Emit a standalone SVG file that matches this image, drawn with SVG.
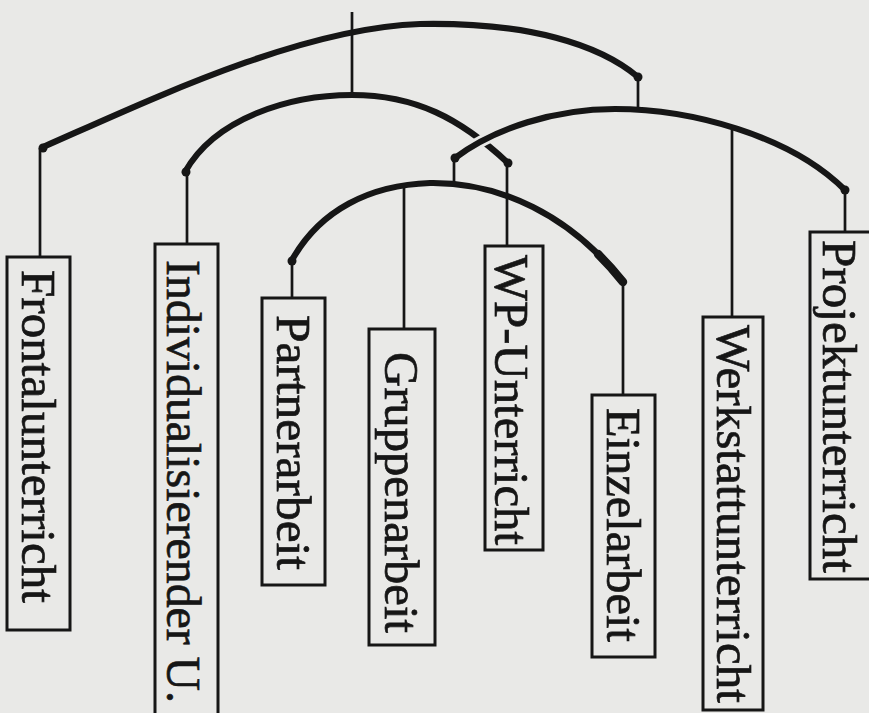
<svg xmlns="http://www.w3.org/2000/svg" width="869" height="713" viewBox="0 0 869 713">
<style>
.arc{fill:none;stroke:#161616;stroke-width:6.2;stroke-linecap:round;stroke-linejoin:round}
.halo{fill:none;stroke:#e9e9e7;stroke-width:12;stroke-linecap:butt}
.str{fill:none;stroke:#161616;stroke-width:2.7}
.box{fill:#e9e9e7;stroke:#161616;stroke-width:3}
.lbl{font-family:"Liberation Serif","Times New Roman",serif;font-size:48px;fill:#161616;stroke:#161616;stroke-width:0.7}
.end{fill:#161616}
</style>
<rect x="0" y="0" width="869" height="713" fill="#e9e9e7"/>
<g id="connectors">
<line class="str" x1="352" y1="12" x2="352" y2="96"/>
<path class="arc" d="M43,147 C150,100 300,28 420,24 C530,22 600,45 638,77"/>
<line class="str" x1="638" y1="77" x2="638" y2="110"/>
<path class="arc" d="M185,172 C215,118 290,95 352,95 C415,95 460,118 508,163"/>
<path class="halo" d="M462,153 C500,127 555,109 615,109"/>
<path class="arc" d="M455,158 C495,128 555,109 615,109 C690,109 790,135 845,190"/>
<line class="str" x1="454" y1="157" x2="454" y2="185"/>
<path class="arc" d="M292,260 C320,210 370,185 430,183 C500,182 570,215 623,282"/>
<path class="arc" style="stroke-width:8.5" d="M598,254 L611.6,268.4 L623,282"/>
<circle class="end" cx="43" cy="148" r="4.5"/>
<circle class="end" cx="186" cy="172" r="4.5"/>
<circle class="end" cx="292" cy="261" r="4.5"/>
<circle class="end" cx="455" cy="158" r="4.5"/>
<circle class="end" cx="508" cy="163" r="4.5"/>
<circle class="end" cx="638" cy="77" r="4.5"/>
<circle class="end" cx="845" cy="190" r="4.5"/>
<line class="str" x1="40" y1="148" x2="40" y2="258"/>
<line class="str" x1="187" y1="172" x2="187" y2="245"/>
<line class="str" x1="292" y1="260" x2="292" y2="299"/>
<line class="str" x1="404" y1="186" x2="404" y2="330"/>
<line class="str" x1="507" y1="163" x2="507" y2="247"/>
<line class="str" x1="623" y1="282" x2="623" y2="396"/>
<line class="str" x1="732" y1="130" x2="732" y2="318"/>
<line class="str" x1="845" y1="190" x2="845" y2="233"/>
</g>
<g id="n-frontal">
<rect class="box" x="7" y="257" width="63" height="373"/>
<text class="lbl" transform="translate(22,270) rotate(90)" textLength="333" lengthAdjust="spacingAndGlyphs">Frontalunterricht</text>
</g>
<g id="n-individual">
<rect class="box" x="155" y="244" width="63" height="480"/>
<text class="lbl" transform="translate(167,260) rotate(90)" textLength="443" lengthAdjust="spacingAndGlyphs">Individualisierender U.</text>
</g>
<g id="n-partner">
<rect class="box" x="262" y="298" width="63" height="287"/>
<text class="lbl" transform="translate(277,315) rotate(90)" textLength="255" lengthAdjust="spacingAndGlyphs">Partnerarbeit</text>
</g>
<g id="n-gruppen">
<rect class="box" x="369" y="329" width="66" height="316"/>
<text class="lbl" transform="translate(385,352) rotate(90)" textLength="281" lengthAdjust="spacingAndGlyphs">Gruppenarbeit</text>
</g>
<g id="n-wp">
<rect class="box" x="485" y="246" width="58" height="304"/>
<text class="lbl" transform="translate(495,255) rotate(90)" textLength="290" lengthAdjust="spacingAndGlyphs">WP-Unterricht</text>
</g>
<g id="n-einzel">
<rect class="box" x="592" y="395" width="63" height="262"/>
<text class="lbl" transform="translate(607,408) rotate(90)" textLength="234" lengthAdjust="spacingAndGlyphs">Einzelarbeit</text>
</g>
<g id="n-werkstatt">
<rect class="box" x="703" y="317" width="60" height="393"/>
<text class="lbl" transform="translate(717,325) rotate(90)" textLength="378" lengthAdjust="spacingAndGlyphs">Werkstattunterricht</text>
</g>
<g id="n-projekt">
<rect class="box" x="810" y="232" width="80" height="347"/>
<text class="lbl" transform="translate(823,240) rotate(90)" textLength="333" lengthAdjust="spacingAndGlyphs">Projektunterricht</text>
</g>
</svg>
